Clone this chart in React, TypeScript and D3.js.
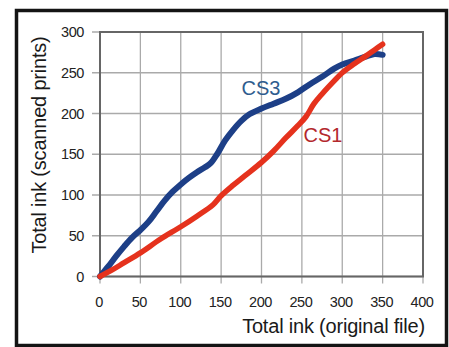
import React from "react";
import * as d3 from "d3";

const xTicks = [0, 50, 100, 150, 200, 250, 300, 350, 400];
const yTicks = [0, 50, 100, 150, 200, 250, 300];

const cs3X = [0, 10, 20, 30, 40, 50, 60, 70, 80, 90, 100, 110, 120, 130, 137, 145, 155, 165, 175, 185, 200, 215, 230, 245, 260, 275, 290, 300, 315, 330, 340, 350];
const cs3Y = [0, 12, 25, 37, 48, 57, 67, 80, 93, 104, 113, 121, 128, 134, 139, 150, 167, 180, 191, 199, 206, 212, 218, 226, 236, 245, 255, 260, 265, 270, 273, 272];

const cs1X = [0, 15, 30, 50, 75, 100, 120, 140, 150, 165, 180, 200, 215, 230, 245, 255, 265, 275, 290, 300, 315, 330, 340, 350];
const cs1Y = [0, 8, 17, 29, 46, 61, 74, 88, 99, 112, 124, 140, 154, 170, 185, 196, 212, 224, 240, 250, 261, 271, 278, 285];

const W = 449;
const H = 347;
const left = 100, right = 423, top = 32, bottom = 276.5;

export default function App() {
  const x = d3.scaleLinear().domain([0, 400]).range([left, right]);
  const y = d3.scaleLinear().domain([0, 300]).range([bottom, top]);
  const line = d3.line<[number, number]>().x(d => x(d[0])).y(d => y(d[1])).curve(d3.curveCatmullRom);
  const cs3 = line(cs3X.map((v, i) => [v, cs3Y[i]] as [number, number])) || "";
  const cs1 = line(cs1X.map((v, i) => [v, cs1Y[i]] as [number, number])) || "";
  const font = "Liberation Sans, Arial, sans-serif";
  return (
    <svg width={W} height={H} style={{ position: "absolute", left: 0, top: 0, background: "#fff" }}>
      <rect x={0} y={0} width={W} height={H} fill="#fff" />
      <rect x={16.5} y={10.5} width={430} height={335} fill="none" stroke="#141414" strokeWidth={3.5} />
      {xTicks.map(t => (
        <line key={"gx" + t} x1={x(t)} x2={x(t)} y1={top} y2={bottom + 7} stroke="#aaa" strokeWidth={1.3} />
      ))}
      {yTicks.map(t => (
        <line key={"gy" + t} x1={left - 8} x2={right} y1={y(t)} y2={y(t)} stroke="#aaa" strokeWidth={1.3} />
      ))}
      <rect x={left} y={top} width={right - left} height={bottom - top} fill="none" stroke="#666" strokeWidth={2} />
      {xTicks.map(t => (
        <text key={"tx" + t} x={x(t) - 1} y={307} textAnchor="middle" fontFamily={font} fontSize={14.5} fill="#222" letterSpacing={-0.4}>{t}</text>
      ))}
      {yTicks.map(t => (
        <text key={"ty" + t} x={84} y={y(t) + 5} textAnchor="end" fontFamily={font} fontSize={14.5} fill="#222" letterSpacing={-0.4}>{t}</text>
      ))}
      <text x={425} y={333} textAnchor="end" fontFamily={font} fontSize={20} fill="#1a1a1a" letterSpacing={-0.2}>Total ink (original file)</text>
      <text transform={`translate(46,${145}) rotate(-90)`} textAnchor="middle" fontFamily={font} fontSize={20} fill="#1a1a1a" letterSpacing={-0.2}>Total ink (scanned prints)</text>
      <path d={cs3} fill="none" stroke="#1d3f87" strokeWidth={6} strokeLinecap="round" strokeLinejoin="round" />
      <path d={cs1} fill="none" stroke="#e5321d" strokeWidth={5.5} strokeLinecap="round" strokeLinejoin="round" />
      <text x={261} y={95} textAnchor="middle" fontFamily={font} fontSize={20} fill="#2e5c8e">CS3</text>
      <text x={323} y={142} textAnchor="middle" fontFamily={font} fontSize={20} fill="#b3282d">CS1</text>
    </svg>
  );
}
